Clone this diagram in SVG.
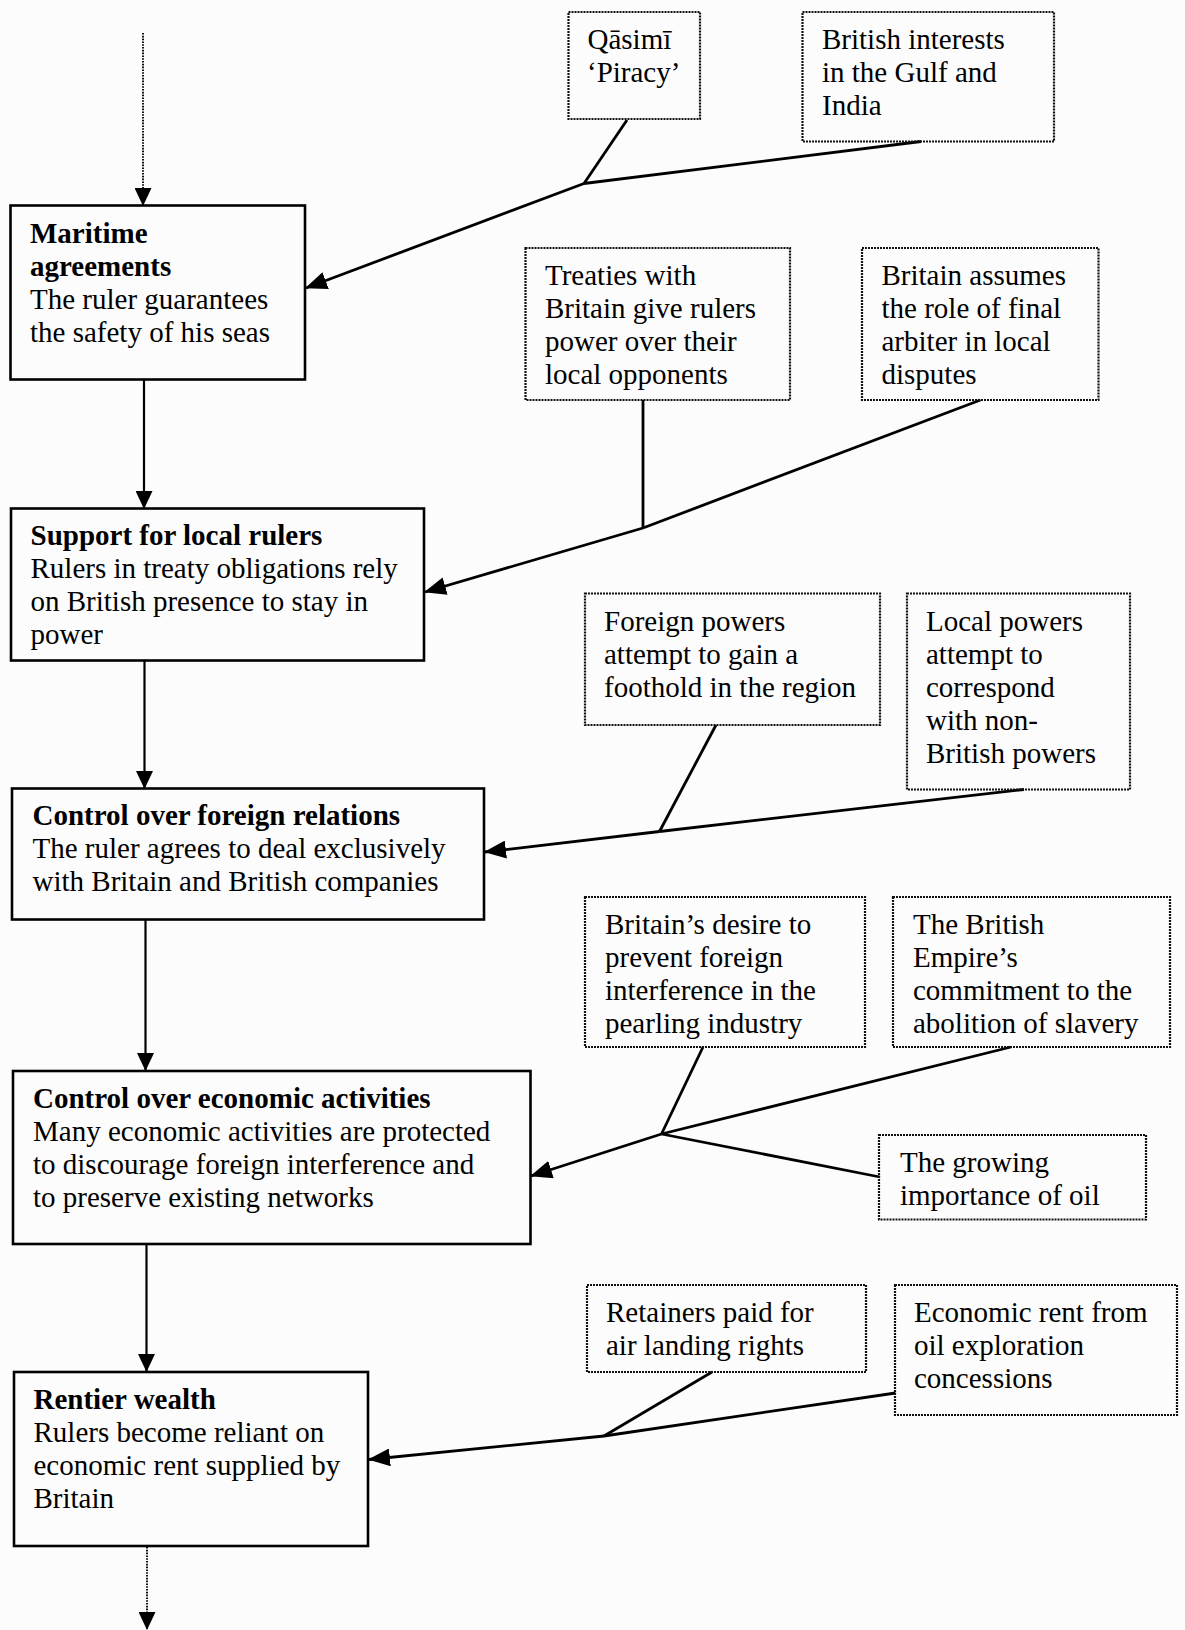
<svg xmlns="http://www.w3.org/2000/svg" width="1185" height="1630" viewBox="0 0 1185 1630">
  <style>
    text { font-family: "Liberation Serif", "Times New Roman", serif; font-size: 29px; fill: #000; }
    .b { font-weight: bold; }
    .main { fill: none; stroke: #000; stroke-width: 2.6; }
    .aux { fill: none; stroke: #111; stroke-width: 2.2; stroke-dasharray: 2 1; }
    .link { fill: none; stroke: #000; stroke-width: 2.8; }
    .stem { fill: none; stroke: #000; stroke-width: 2.2; }
    .dot { fill: none; stroke: #111; stroke-width: 2; stroke-dasharray: 1.6 1.2; }
  </style>
  <defs>
    <marker id="down" viewBox="0 0 18 17" refX="17" refY="8.5" markerWidth="18" markerHeight="17" orient="auto" markerUnits="userSpaceOnUse">
      <path d="M0,0 L18,8.5 L0,17 z" fill="#000"/>
    </marker>
    <marker id="side" viewBox="0 0 22 18" refX="21" refY="9" markerWidth="22" markerHeight="18" orient="auto" markerUnits="userSpaceOnUse">
      <path d="M0,0 L22,9 L0,18 z" fill="#000"/>
    </marker>
  </defs>

  <rect width="1185" height="1630" fill="#fcfcfc"/>

  <!-- connectors -->
  <g id="connectors">
    <!-- main chain -->
    <line class="dot" x1="143" y1="33" x2="143" y2="205" marker-end="url(#down)"/>
    <line class="stem" x1="144" y1="380" x2="144" y2="508" marker-end="url(#down)"/>
    <line class="stem" x1="144.5" y1="661" x2="144.5" y2="788" marker-end="url(#down)"/>
    <line class="stem" x1="145.5" y1="920" x2="145.5" y2="1070" marker-end="url(#down)"/>
    <line class="stem" x1="146.5" y1="1244" x2="146.5" y2="1371" marker-end="url(#down)"/>
    <line class="dot" x1="147" y1="1547" x2="147" y2="1629" marker-end="url(#down)"/>

    <!-- into maritime agreements -->
    <line class="link" x1="627" y1="120" x2="584" y2="183.5"/>
    <line class="link" x1="921" y1="141.5" x2="584" y2="183.5"/>
    <line class="link" x1="584" y1="183.5" x2="306" y2="288" marker-end="url(#side)"/>

    <!-- into support for local rulers -->
    <line class="link" x1="643" y1="400" x2="643" y2="528"/>
    <line class="link" x1="980.5" y1="400" x2="643" y2="528"/>
    <line class="link" x1="643" y1="528" x2="425" y2="592" marker-end="url(#side)"/>

    <!-- into control over foreign relations -->
    <line class="link" x1="716" y1="725" x2="659.5" y2="831.5"/>
    <line class="link" x1="1024" y1="789.5" x2="659.5" y2="831.5"/>
    <line class="link" x1="659.5" y1="831.5" x2="485" y2="852" marker-end="url(#side)"/>

    <!-- into control over economic activities -->
    <line class="link" x1="703" y1="1047" x2="661.5" y2="1134"/>
    <line class="link" x1="1011" y1="1047" x2="661.5" y2="1134"/>
    <line class="link" x1="880" y1="1177" x2="661.5" y2="1134"/>
    <line class="link" x1="661.5" y1="1134" x2="531" y2="1176" marker-end="url(#side)"/>

    <!-- into rentier wealth -->
    <line class="link" x1="712" y1="1372" x2="604" y2="1436"/>
    <line class="link" x1="895.5" y1="1393" x2="604" y2="1436"/>
    <line class="link" x1="604" y1="1436" x2="369" y2="1459.5" marker-end="url(#side)"/>
  </g>

  <!-- main stages -->
  <g id="maritime">
    <rect class="main" x="10.5" y="205.5" width="294.5" height="174"/>
    <text><tspan class="b" x="30" y="243">Maritime</tspan><tspan class="b" x="30" y="276">agreements</tspan><tspan x="30" y="309">The ruler guarantees</tspan><tspan x="30" y="342">the safety of his seas</tspan></text>
  </g>

  <g id="support">
    <rect class="main" x="11" y="508.5" width="413" height="152"/>
    <text><tspan class="b" x="30.5" y="545">Support for local rulers</tspan><tspan x="30.5" y="578">Rulers in treaty obligations rely</tspan><tspan x="30.5" y="611">on British presence to stay in</tspan><tspan x="30.5" y="644">power</tspan></text>
  </g>

  <g id="foreign">
    <rect class="main" x="12" y="788.5" width="472" height="131"/>
    <text><tspan class="b" x="32.5" y="825">Control over foreign relations</tspan><tspan x="32.5" y="858">The ruler agrees to deal exclusively</tspan><tspan x="32.5" y="891">with Britain and British companies</tspan></text>
  </g>

  <g id="economic">
    <rect class="main" x="13" y="1071" width="517.5" height="173"/>
    <text><tspan class="b" x="33" y="1108">Control over economic activities</tspan><tspan x="33" y="1141">Many economic activities are protected</tspan><tspan x="33" y="1174">to discourage foreign interference and</tspan><tspan x="33" y="1207">to preserve existing networks</tspan></text>
  </g>

  <g id="rentier">
    <rect class="main" x="14" y="1372" width="354" height="174"/>
    <text><tspan class="b" x="33.5" y="1409">Rentier wealth</tspan><tspan x="33.5" y="1442">Rulers become reliant on</tspan><tspan x="33.5" y="1475">economic rent supplied by</tspan><tspan x="33.5" y="1508">Britain</tspan></text>
  </g>

  <!-- contributing factors -->
  <g id="qasimi">
    <rect class="aux" x="568.5" y="12" width="131.5" height="107"/>
    <text><tspan x="587.5" y="49">Qāsimī</tspan><tspan x="587" y="82">‘Piracy’</tspan></text>
  </g>

  <g id="british-interests">
    <rect class="aux" x="802.5" y="12" width="251.5" height="129.5"/>
    <text><tspan x="822" y="49">British interests</tspan><tspan x="822" y="82">in the Gulf and</tspan><tspan x="822" y="115">India</tspan></text>
  </g>

  <g id="treaties">
    <rect class="aux" x="525.5" y="248" width="264.5" height="152"/>
    <text><tspan x="545" y="285">Treaties with</tspan><tspan x="545" y="318">Britain give rulers</tspan><tspan x="545" y="351">power over their</tspan><tspan x="545" y="384">local opponents</tspan></text>
  </g>

  <g id="arbiter">
    <rect class="aux" x="862" y="248" width="236.5" height="152"/>
    <text><tspan x="881.5" y="285">Britain assumes</tspan><tspan x="881.5" y="318">the role of final</tspan><tspan x="881.5" y="351">arbiter in local</tspan><tspan x="881.5" y="384">disputes</tspan></text>
  </g>

  <g id="foreign-powers">
    <rect class="aux" x="585" y="593.5" width="295" height="131.5"/>
    <text><tspan x="604" y="630.5">Foreign powers</tspan><tspan x="604" y="663.5">attempt to gain a</tspan><tspan x="604" y="696.5">foothold in the region</tspan></text>
  </g>

  <g id="local-powers">
    <rect class="aux" x="907" y="593.5" width="223" height="196"/>
    <text><tspan x="926" y="630.5">Local powers</tspan><tspan x="926" y="663.5">attempt to</tspan><tspan x="926" y="696.5">correspond</tspan><tspan x="926" y="729.5">with non-</tspan><tspan x="926" y="762.5">British powers</tspan></text>
  </g>

  <g id="pearling">
    <rect class="aux" x="585" y="897" width="280" height="150"/>
    <text><tspan x="605" y="934">Britain’s desire to</tspan><tspan x="605" y="967">prevent foreign</tspan><tspan x="605" y="1000">interference in the</tspan><tspan x="605" y="1033">pearling industry</tspan></text>
  </g>

  <g id="slavery">
    <rect class="aux" x="893" y="897" width="277" height="150"/>
    <text><tspan x="913" y="934">The British</tspan><tspan x="913" y="967">Empire’s</tspan><tspan x="913" y="1000">commitment to the</tspan><tspan x="913" y="1033">abolition of slavery</tspan></text>
  </g>

  <g id="oil">
    <rect class="aux" x="879" y="1135" width="267" height="84.5"/>
    <text><tspan x="900" y="1172">The growing</tspan><tspan x="900" y="1205">importance of oil</tspan></text>
  </g>

  <g id="landing-rights">
    <rect class="aux" x="587" y="1285" width="279" height="87"/>
    <text><tspan x="606" y="1322">Retainers paid for</tspan><tspan x="606" y="1355">air landing rights</tspan></text>
  </g>

  <g id="oil-rent">
    <rect class="aux" x="895" y="1285" width="282" height="130"/>
    <text><tspan x="914" y="1322">Economic rent from</tspan><tspan x="914" y="1355">oil exploration</tspan><tspan x="914" y="1388">concessions</tspan></text>
  </g>
</svg>
